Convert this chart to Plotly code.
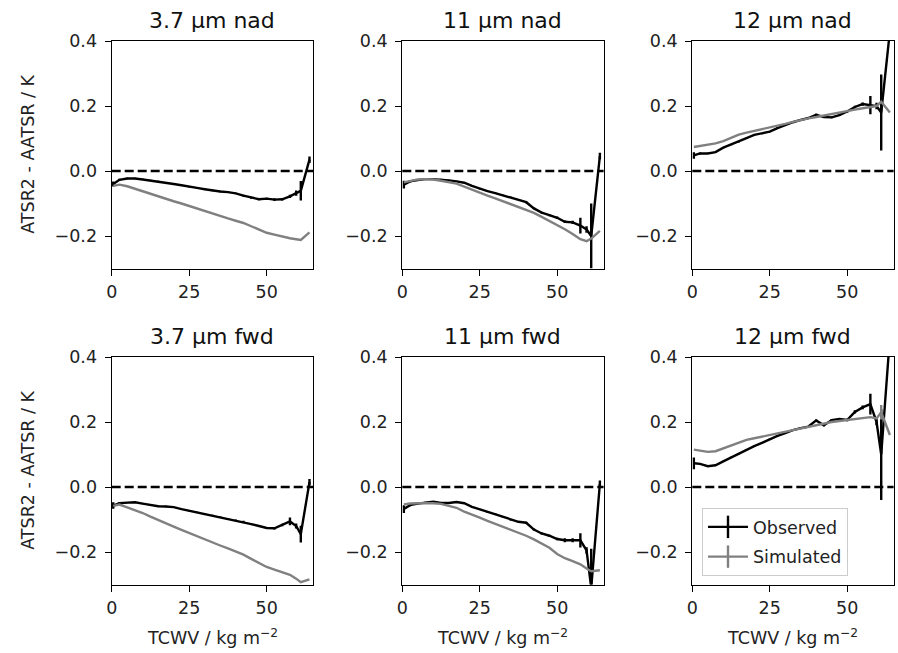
import plotly.graph_objects as go

# ---------------- data ----------------
tcwv = [0.5, 2.5, 5, 7.5, 10, 12.5, 15, 17.5, 20, 22.5, 25, 27.5, 30, 32.5, 35,
        37.5, 40, 42.5, 45, 47.5, 50, 52.5, 55, 57.5, 59.5, 61, 63.8]

titles = ["3.7 µm nad", "11 µm nad", "12 µm nad", "3.7 µm fwd", "11 µm fwd", "12 µm fwd"]

obs_37_nad = [-0.040, -0.027, -0.023, -0.023, -0.026, -0.029, -0.032, -0.036, -0.040, -0.044,
              -0.049, -0.052, -0.056, -0.060, -0.063, -0.065, -0.069, -0.076, -0.082, -0.087,
              -0.085, -0.088, -0.087, -0.078, -0.068, -0.061, 0.035]
sim_37_nad = [-0.046, -0.042, -0.047, -0.055, -0.062, -0.070, -0.077, -0.085, -0.093, -0.100,
              -0.108, -0.116, -0.123, -0.131, -0.139, -0.146, -0.153, -0.160, -0.170, -0.180,
              -0.190, -0.196, -0.202, -0.207, -0.210, -0.212, -0.189]
err_37_nad = [0.008, 0.003, 0.002, 0.002, 0.002, 0.002, 0.002, 0.002, 0.002, 0.002,
              0.002, 0.002, 0.002, 0.002, 0.002, 0.002, 0.002, 0.003, 0.003, 0.003,
              0.003, 0.004, 0.004, 0.005, 0.008, 0.030, 0.010]

obs_11_nad = [-0.042, -0.032, -0.028, -0.025, -0.025, -0.026, -0.029, -0.032, -0.036, -0.046,
              -0.055, -0.062, -0.068, -0.075, -0.081, -0.088, -0.096, -0.115, -0.128, -0.136,
              -0.144, -0.156, -0.158, -0.168, -0.180, -0.200, 0.046]
sim_11_nad = [-0.035, -0.030, -0.026, -0.025, -0.026, -0.030, -0.034, -0.039, -0.048, -0.058,
              -0.068, -0.076, -0.084, -0.093, -0.101, -0.110, -0.119, -0.129, -0.141, -0.153,
              -0.165, -0.179, -0.194, -0.210, -0.216, -0.208, -0.184]
err_11_nad = [0.012, 0.003, 0.002, 0.002, 0.002, 0.002, 0.002, 0.002, 0.002, 0.002,
              0.002, 0.002, 0.002, 0.002, 0.002, 0.002, 0.003, 0.003, 0.003, 0.003,
              0.004, 0.004, 0.005, 0.024, 0.010, 0.100, 0.010]

obs_12_nad = [0.048, 0.054, 0.054, 0.058, 0.072, 0.081, 0.090, 0.101, 0.111, 0.115,
              0.121, 0.132, 0.142, 0.150, 0.157, 0.163, 0.173, 0.166, 0.165, 0.172,
              0.183, 0.197, 0.206, 0.203, 0.200, 0.180, 0.430]
sim_12_nad = [0.074, 0.077, 0.080, 0.085, 0.092, 0.102, 0.112, 0.118, 0.123, 0.128,
              0.133, 0.139, 0.145, 0.151, 0.157, 0.162, 0.166, 0.171, 0.176, 0.181,
              0.185, 0.189, 0.193, 0.197, 0.200, 0.213, 0.180]
err_12_nad = [0.010, 0.003, 0.002, 0.002, 0.002, 0.002, 0.002, 0.002, 0.002, 0.002,
              0.002, 0.002, 0.002, 0.002, 0.002, 0.002, 0.003, 0.003, 0.003, 0.003,
              0.004, 0.004, 0.005, 0.028, 0.010, 0.117, 0.010]

obs_37_fwd = [-0.057, -0.050, -0.048, -0.047, -0.051, -0.055, -0.059, -0.060, -0.062, -0.068,
              -0.073, -0.078, -0.082, -0.087, -0.093, -0.098, -0.102, -0.107, -0.114, -0.120,
              -0.126, -0.127, -0.117, -0.106, -0.120, -0.145, 0.015]
sim_37_fwd = [-0.058, -0.054, -0.063, -0.071, -0.080, -0.091, -0.102, -0.113, -0.122, -0.132,
              -0.142, -0.152, -0.161, -0.171, -0.180, -0.189, -0.198, -0.208, -0.221, -0.234,
              -0.246, -0.254, -0.262, -0.270, -0.282, -0.293, -0.284]
err_37_fwd = [0.010, 0.003, 0.002, 0.002, 0.002, 0.002, 0.002, 0.002, 0.002, 0.002,
              0.002, 0.002, 0.002, 0.002, 0.002, 0.002, 0.002, 0.003, 0.003, 0.003,
              0.003, 0.004, 0.004, 0.012, 0.008, 0.026, 0.010]

obs_11_fwd = [-0.068, -0.056, -0.051, -0.047, -0.045, -0.049, -0.049, -0.046, -0.050, -0.061,
              -0.069, -0.077, -0.083, -0.092, -0.101, -0.107, -0.110, -0.131, -0.143, -0.150,
              -0.160, -0.164, -0.164, -0.164, -0.195, -0.310, 0.010]
sim_11_fwd = [-0.054, -0.051, -0.050, -0.049, -0.050, -0.052, -0.058, -0.064, -0.076, -0.084,
              -0.094, -0.104, -0.113, -0.122, -0.131, -0.140, -0.150, -0.161, -0.174, -0.187,
              -0.206, -0.219, -0.228, -0.238, -0.251, -0.259, -0.256]
err_11_fwd = [0.012, 0.003, 0.002, 0.002, 0.002, 0.002, 0.002, 0.002, 0.002, 0.002,
              0.002, 0.002, 0.002, 0.002, 0.002, 0.002, 0.003, 0.003, 0.003, 0.003,
              0.004, 0.006, 0.006, 0.022, 0.010, 0.120, 0.010]

obs_12_fwd = [0.073, 0.071, 0.064, 0.067, 0.079, 0.091, 0.102, 0.115, 0.126, 0.136,
              0.147, 0.157, 0.166, 0.175, 0.181, 0.186, 0.205, 0.190, 0.206, 0.209,
              0.206, 0.231, 0.245, 0.255, 0.200, 0.100, 0.460]
sim_12_fwd = [0.115, 0.112, 0.108, 0.110, 0.119, 0.129, 0.138, 0.145, 0.150, 0.155,
              0.160, 0.166, 0.171, 0.176, 0.182, 0.187, 0.191, 0.196, 0.200, 0.203,
              0.206, 0.209, 0.212, 0.215, 0.211, 0.230, 0.160]
err_12_fwd = [0.018, 0.003, 0.002, 0.002, 0.002, 0.002, 0.002, 0.002, 0.002, 0.002,
              0.002, 0.002, 0.002, 0.002, 0.002, 0.002, 0.003, 0.003, 0.003, 0.003,
              0.004, 0.005, 0.006, 0.032, 0.010, 0.140, 0.010]
sim_err_12_fwd = [0.0] * 25 + [0.022, 0.0]

observed = [obs_37_nad, obs_11_nad, obs_12_nad, obs_37_fwd, obs_11_fwd, obs_12_fwd]
simulated = [sim_37_nad, sim_11_nad, sim_12_nad, sim_37_fwd, sim_11_fwd, sim_12_fwd]
obs_err = [err_37_nad, err_11_nad, err_12_nad, err_37_fwd, err_11_fwd, err_12_fwd]
sim_err = [[0.0] * 27] * 5 + [sim_err_12_fwd]

y_tickvals = [-0.2, 0.0, 0.2, 0.4]
y_ticktext = ["\u22120.2", "0.0", "0.2", "0.4"]
x_tickvals = [0, 25, 50]

# ---------------- layout geometry ----------------
W, H = 898, 653
col_px = [(111.7, 313.2), (402.3, 603.6), (692.3, 893.6)]
row_px = [(41.0, 268.5), (357.0, 584.5)]

BLACK = "#000000"
GREY = "#808080"
FONT = "DejaVu Sans"
FS = 17.5

fig = go.Figure()
layout_axes = {}
shapes = []
annotations = []

for i in range(6):
    r, c = divmod(i, 3)
    n = "" if i == 0 else str(i + 1)
    xa, ya = "x" + n, "y" + n
    x0, x1 = col_px[c]
    y0, y1 = row_px[r]
    common = dict(showline=True, linecolor=BLACK, linewidth=1.3, mirror=True,
                  ticks="outside", ticklen=6, tickwidth=1.3, tickcolor=BLACK,
                  showgrid=False, zeroline=False, automargin=False,
                  tickfont=dict(family=FONT, size=FS, color="#222222"))
    layout_axes["xaxis" + n] = dict(common, domain=[x0 / W, x1 / W], range=[0, 65],
                                   tickvals=x_tickvals, anchor=ya, ticklabelstandoff=1)
    layout_axes["yaxis" + n] = dict(common, domain=[1 - y1 / H, 1 - y0 / H], range=[-0.3, 0.4],
                                   tickvals=y_tickvals, ticktext=y_ticktext, anchor=xa,
                                   ticklabelstandoff=4)

    fig.add_trace(go.Scatter(x=tcwv, y=observed[i], mode="lines", xaxis=xa, yaxis=ya,
                             line=dict(color=BLACK, width=2.4), showlegend=False,
                             error_y=dict(type="data", array=obs_err[i], color=BLACK,
                                          thickness=2.4, width=0)))
    fig.add_trace(go.Scatter(x=tcwv, y=simulated[i], mode="lines", xaxis=xa, yaxis=ya,
                             line=dict(color=GREY, width=2.4), showlegend=False,
                             error_y=dict(type="data", array=sim_err[i], color=GREY,
                                          thickness=2.4, width=0)))

    shapes.append(dict(type="line", xref=xa + " domain", yref=ya, x0=0, x1=1, y0=0, y1=0,
                       line=dict(color=BLACK, width=2.4, dash="9px,4px")))

    cy = 20 if r == 0 else 336
    annotations.append(dict(text=titles[i], x=(x0 + x1) / 2 / W, y=1 - cy / H,
                            xref="paper", yref="paper", showarrow=False,
                            xanchor="center", yanchor="middle",
                            font=dict(family=FONT, size=22, color="#111111")))
    if c == 0:
        annotations.append(dict(text="ATSR2 - AATSR / K", x=28 / W, y=1 - (y0 + y1) / 2 / H,
                                xref="paper", yref="paper", showarrow=False, textangle=-90,
                                xanchor="center", yanchor="middle",
                                font=dict(family=FONT, size=FS, color="#222222")))
    if r == 1:
        annotations.append(dict(text="TCWV / kg m<sup>\u22122</sup>", x=(x0 + x1) / 2 / W,
                                y=1 - 637 / H, xref="paper", yref="paper", showarrow=False,
                                xanchor="center", yanchor="middle",
                                font=dict(family=FONT, size=FS, color="#222222")))

# legend-only entries (line with vertical error-bar tick)
for name, col, grp in [("Observed", BLACK, "o"), ("Simulated", GREY, "s")]:
    fig.add_trace(go.Scatter(x=[None], y=[None], mode="lines+markers", name=name,
                             xaxis="x6", yaxis="y6", legendgroup=grp,
                             line=dict(color=col, width=2.4),
                             marker=dict(symbol="line-ns", size=20,
                                         line=dict(color=col, width=2.4))))

fig.update_layout(
    width=W, height=H,
    margin=dict(l=0, r=0, t=0, b=0, pad=0),
    paper_bgcolor="white", plot_bgcolor="white",
    font=dict(family=FONT, size=FS, color="#222222"),
    shapes=shapes, annotations=annotations,
    showlegend=True,
    legend=dict(x=702 / W, y=1 - 508 / H, xanchor="left", yanchor="top",
                bordercolor="#cccccc", borderwidth=1, bgcolor="rgba(255,255,255,0.8)",
                font=dict(family=FONT, size=FS, color="#222222"),
                traceorder="grouped", tracegroupgap=4, itemwidth=40),
    **layout_axes,
)

fig.write_html("out.html")
